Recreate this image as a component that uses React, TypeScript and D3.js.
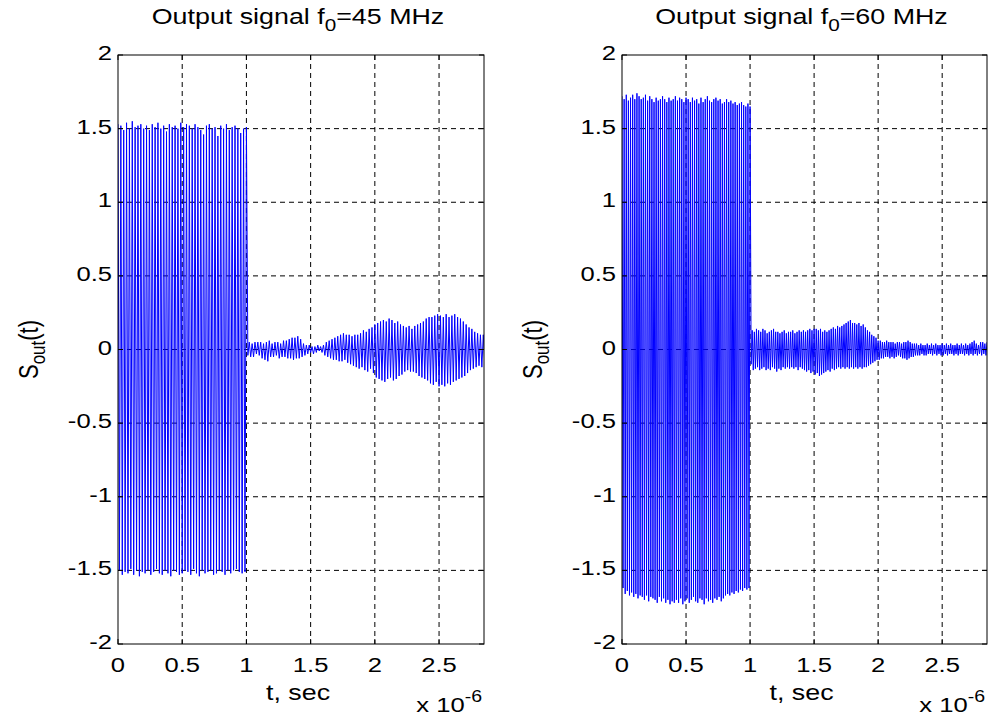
import React from "react";
import * as d3 from "d3";

// ---------- data ----------
// time axis in microseconds (plotted with the x 10^-6 multiplier)
const X_TICKS = [0, 0.5, 1, 1.5, 2, 2.5];
const X_TICK_LABELS = ["0", "0.5", "1", "1.5", "2", "2.5"];
const Y_TICKS = [-2, -1.5, -1, -0.5, 0, 0.5, 1, 1.5, 2];
const Y_TICK_LABELS = ["-2", "-1.5", "-1", "-0.5", "0", "0.5", "1", "1.5", "2"];
const X_MAX = 2.85;

// sample spacing (µs): half period of each carrier
const DT_45 = 1 / 90;
const DT_60 = 1 / 120;

// f0 = 45 MHz : burst 0..1 µs
const S45_BURST = [
  1.53, -1.5, 1.52, -1.53, 1.49, -1.51, 1.54, -1.52, 1.5, -1.49,
  1.55, -1.53, 1.51, -1.5, 1.52, -1.54, 1.53, -1.51, 1.5, -1.52,
  1.52, -1.5, 1.49, -1.53, 1.53, -1.51, 1.51, -1.49, 1.54, -1.52,
  1.5, -1.53, 1.52, -1.5, 1.48, -1.52, 1.53, -1.54, 1.51, -1.5,
  1.52, -1.51, 1.5, -1.53, 1.54, -1.52, 1.51, -1.5, 1.53, -1.51,
  1.52, -1.53, 1.5, -1.49, 1.53, -1.52, 1.51, -1.54, 1.49, -1.5,
  1.46, -1.52, 1.52, -1.51, 1.53, -1.5, 1.5, -1.53, 1.51, -1.52,
  1.45, -1.5, 1.52, -1.51, 1.5, -1.53, 1.53, -1.5, 1.49, -1.52,
  1.51, -1.5, 1.52, -1.49, 1.5, -1.51, 1.47, -1.52, 1.5, -1.51,
  1.51,
];
// f0 = 45 MHz : response after 1 µs
const S45_TAIL = [
  -0.04, 0.05, -0.05, 0.04, -0.05, 0.05, -0.03, 0.05, -0.04,
  0.05, -0.06, 0.04, -0.07, 0.05, -0.08, 0.06, -0.05, 0.04,
  -0.05, 0.05, -0.04, 0.05, -0.06, 0.04, -0.05, 0.06, -0.05,
  0.06, -0.06, 0.07, -0.06, 0.08, -0.07, 0.08, -0.06, 0.09,
  -0.06, 0.07, -0.05, 0.04, -0.04, 0.03, -0.03, 0.03, -0.02,
  0.02, -0.03, 0.02, -0.02, 0.03, -0.01, 0.02, -0.02, 0.03,
  -0.04, 0.05, -0.05, 0.06, -0.06, 0.07, -0.07, 0.08, -0.07,
  0.09, -0.08, 0.1, -0.08, 0.11, -0.07, 0.1, -0.09, 0.1,
  -0.1, 0.09, -0.11, 0.1, -0.12, 0.1, -0.13, 0.11, -0.12,
  0.13, -0.14, 0.12, -0.15, 0.14, -0.13, 0.15, -0.16, 0.17,
  -0.19, 0.18, -0.2, 0.19, -0.21, 0.2, -0.22, 0.19, -0.2,
  0.21, -0.19, 0.2, -0.21, 0.18, -0.2, 0.19, -0.18, 0.17,
  -0.17, 0.16, -0.15, 0.15, -0.14, 0.16, -0.15, 0.14, -0.15,
  0.16, -0.16, 0.17, -0.18, 0.18, -0.19, 0.19, -0.2, 0.21,
  -0.21, 0.22, -0.23, 0.22, -0.24, 0.23, -0.22, 0.24, -0.25,
  0.23, -0.24, 0.22, -0.25, 0.24, -0.23, 0.22, -0.24, 0.23,
  -0.22, 0.24, -0.21, 0.22, -0.2, 0.21, -0.19, 0.19, -0.18,
  0.17, -0.16, 0.15, -0.14, 0.14, -0.13, 0.12, -0.12, 0.11,
  -0.11, 0.1, -0.12, 0.1, -0.09,
];

// f0 = 60 MHz : burst 0..1 µs
const S60_BURST = [
  1.72, -1.62, 1.7, -1.66, 1.73, -1.64, 1.69, -1.67, 1.71, -1.65,
  1.73, -1.68, 1.7, -1.66, 1.74, -1.69, 1.72, -1.67, 1.7, -1.68,
  1.71, -1.7, 1.73, -1.67, 1.69, -1.71, 1.72, -1.68, 1.7, -1.69,
  1.68, -1.7, 1.71, -1.72, 1.69, -1.68, 1.7, -1.71, 1.72, -1.69,
  1.7, -1.72, 1.68, -1.7, 1.71, -1.73, 1.69, -1.71, 1.7, -1.72,
  1.72, -1.7, 1.69, -1.72, 1.71, -1.69, 1.7, -1.73, 1.68, -1.71,
  1.71, -1.69, 1.7, -1.72, 1.68, -1.7, 1.71, -1.68, 1.69, -1.71,
  1.7, -1.72, 1.67, -1.69, 1.71, -1.7, 1.68, -1.73, 1.7, -1.69,
  1.72, -1.71, 1.69, -1.7, 1.68, -1.72, 1.7, -1.69, 1.71, -1.7,
  1.69, -1.68, 1.7, -1.71, 1.67, -1.69, 1.68, -1.67, 1.7, -1.66,
  1.68, -1.67, 1.69, -1.65, 1.67, -1.66, 1.68, -1.64, 1.66, -1.65,
  1.67, -1.63, 1.68, -1.64, 1.66, -1.62, 1.65, -1.63, 1.67, -1.62,
  1.65,
];
// f0 = 60 MHz : response after 1 µs
const S60_TAIL = [
  -0.1, 0.13, -0.14, 0.12, -0.13, 0.14, -0.12, 0.13, -0.14, 0.12, -0.13, 0.14,
  -0.12, 0.13, -0.14, 0.11, -0.13, 0.12, -0.14, 0.13, -0.12, 0.14, -0.13, 0.12,
  -0.15, 0.12, -0.13, 0.11, -0.14, 0.12, -0.12, 0.13, -0.13, 0.11, -0.12, 0.12,
  -0.13, 0.12, -0.12, 0.13, -0.13, 0.11, -0.12, 0.12, -0.14, 0.13, -0.12, 0.12,
  -0.13, 0.13, -0.14, 0.12, -0.15, 0.13, -0.14, 0.14, -0.16, 0.13, -0.15, 0.14,
  -0.17, 0.14, -0.16, 0.13, -0.18, 0.14, -0.17, 0.12, -0.16, 0.13, -0.15, 0.12,
  -0.14, 0.13, -0.15, 0.14, -0.13, 0.15, -0.14, 0.14, -0.13, 0.16, -0.12, 0.15,
  -0.13, 0.16, -0.12, 0.17, -0.13, 0.18, -0.12, 0.19, -0.13, 0.2, -0.12, 0.18,
  -0.13, 0.18, -0.12, 0.17, -0.13, 0.18, -0.12, 0.16, -0.13, 0.17, -0.12, 0.15,
  -0.12, 0.13, -0.11, 0.12, -0.1, 0.1, -0.09, 0.09, -0.08, 0.08, -0.07, 0.06,
  -0.07, 0.06, -0.06, 0.05, -0.06, 0.05, -0.05, 0.06, -0.05, 0.05, -0.06, 0.05,
  -0.05, 0.05, -0.06, 0.04, -0.05, 0.05, -0.04, 0.05, -0.05, 0.04, -0.06, 0.05,
  -0.06, 0.05, -0.07, 0.06, -0.06, 0.05, -0.05, 0.04, -0.05, 0.04, -0.04, 0.04,
  -0.04, 0.03, -0.04, 0.04, -0.03, 0.03, -0.04, 0.03, -0.04, 0.04, -0.03, 0.03,
  -0.03, 0.04, -0.04, 0.03, -0.03, 0.04, -0.04, 0.03, -0.03, 0.03, -0.04, 0.04,
  -0.04, 0.03, -0.03, 0.04, -0.04, 0.03, -0.03, 0.04, -0.03, 0.03, -0.04, 0.03,
  -0.03, 0.04, -0.04, 0.03, -0.03, 0.04, -0.03, 0.03, -0.04, 0.04, -0.03, 0.03,
  -0.04, 0.04, -0.03, 0.05, -0.04, 0.06, -0.03, 0.04, -0.04, 0.03, -0.03, 0.05,
  -0.04, 0.05, -0.03, 0.04, -0.04, 0.05,
];

const PANELS = [
  { id: "p45", freq: "45", dt: DT_45, values: [...S45_BURST, ...S45_TAIL], left: 118, right: 484 },
  { id: "p60", freq: "60", dt: DT_60, values: [...S60_BURST, ...S60_TAIL], left: 622, right: 987 },
];

// ---------- layout ----------
const W = 990;
const H = 715;
const TOP = 55;
const BOTTOM = 644;
const FONT = "'Liberation Sans', Arial, Helvetica, sans-serif";
const FS = 21;
const SX = 1.22;
const TICK = 5;

function Panel({ p }: { p: (typeof PANELS)[number] }) {
  const x = d3.scaleLinear().domain([0, X_MAX]).range([p.left, p.right]);
  const y = d3.scaleLinear().domain([-2, 2]).range([BOTTOM, TOP]);
  const pts = p.values.map((v, i) => [i * p.dt, v] as [number, number]);
  const line = d3
    .line<[number, number]>()
    .x((d) => x(d[0]))
    .y((d) => y(d[1]));
  const cx = (p.left + p.right) / 2;
  const dash = "5,4";
  return (
    <g>
      <defs>
        <clipPath id={`clip-${p.id}`}>
          <rect x={p.left} y={TOP} width={p.right - p.left} height={BOTTOM - TOP} />
        </clipPath>
      </defs>
      <rect x={p.left} y={TOP} width={p.right - p.left} height={BOTTOM - TOP} fill="#fff" />
      {/* grid */}
      {X_TICKS.filter((t) => t > 0).map((t) => (
        <line key={`gx${t}`} x1={x(t)} x2={x(t)} y1={TOP} y2={BOTTOM} stroke="#000" strokeWidth={1} strokeDasharray={dash} />
      ))}
      {Y_TICKS.filter((t) => t > -2 && t < 2).map((t) => (
        <line key={`gy${t}`} x1={p.left} x2={p.right} y1={y(t)} y2={y(t)} stroke="#000" strokeWidth={1} strokeDasharray={dash} />
      ))}
      {/* signal */}
      <path d={line(pts) || ""} fill="none" stroke="#0000ff" strokeWidth={1} clipPath={`url(#clip-${p.id})`} />
      {/* box */}
      <rect x={p.left} y={TOP} width={p.right - p.left} height={BOTTOM - TOP} fill="none" stroke="#000" strokeWidth={1} />
      {/* ticks */}
      {X_TICKS.map((t) => (
        <g key={`tx${t}`}>
          <line x1={x(t)} x2={x(t)} y1={BOTTOM} y2={BOTTOM - TICK} stroke="#000" />
          <line x1={x(t)} x2={x(t)} y1={TOP} y2={TOP + TICK} stroke="#000" />
        </g>
      ))}
      {Y_TICKS.map((t) => (
        <g key={`ty${t}`}>
          <line x1={p.left} x2={p.left + TICK} y1={y(t)} y2={y(t)} stroke="#000" />
          <line x1={p.right} x2={p.right - TICK} y1={y(t)} y2={y(t)} stroke="#000" />
        </g>
      ))}
      {/* tick labels */}
      {X_TICKS.map((t, i) => (
        <text key={`lx${t}`} transform={`translate(${x(t)},672) scale(${SX},1)`} textAnchor="middle" fontSize={FS} fontFamily={FONT}>
          {X_TICK_LABELS[i]}
        </text>
      ))}
      {Y_TICKS.map((t, i) => (
        <text key={`ly${t}`} transform={`translate(${p.left - 6},${y(t) + 5}) scale(${SX},1)`} textAnchor="end" fontSize={FS} fontFamily={FONT}>
          {Y_TICK_LABELS[i]}
        </text>
      ))}
      {/* title */}
      <text transform={`translate(${cx - 3},24) scale(${SX},1)`} textAnchor="middle" fontSize={22} fontFamily={FONT}>
        Output signal f
        <tspan fontSize={17} dy={7}>0</tspan>
        <tspan dy={-7}>={p.freq} MHz</tspan>
      </text>
      {/* x label */}
      <text transform={`translate(${cx - 3},700) scale(${SX},1)`} textAnchor="middle" fontSize={22} fontFamily={FONT}>
        t, sec
      </text>
      {/* multiplier */}
      <text transform={`translate(${p.right - 2},712) scale(${SX},1)`} textAnchor="end" fontSize={FS} fontFamily={FONT}>
        x 10
        <tspan fontSize={16} dy={-10}>-6</tspan>
      </text>
      {/* y label */}
      <text transform={`translate(${p.left - 80},${(TOP + BOTTOM) / 2}) scale(${SX},1) rotate(-90)`} textAnchor="middle" fontSize={22} fontFamily={FONT}>
        S
        <tspan fontSize={17} dy={6}>out</tspan>
        <tspan dy={-6}>(t)</tspan>
      </text>
    </g>
  );
}

export default function App() {
  return (
    <svg width={W} height={H} viewBox={`0 0 ${W} ${H}`} style={{ position: "absolute", left: 0, top: 0, background: "#fff" }}>
      <rect x={0} y={0} width={W} height={H} fill="#fff" />
      {PANELS.map((p) => (
        <Panel key={p.id} p={p} />
      ))}
    </svg>
  );
}
